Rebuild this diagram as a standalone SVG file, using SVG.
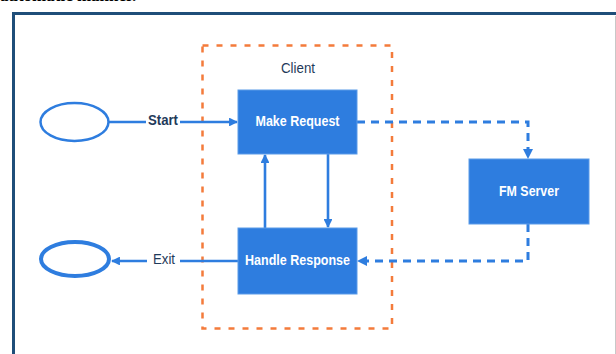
<svg xmlns="http://www.w3.org/2000/svg" width="616" height="354" viewBox="0 0 616 354">
<defs>
<style>
.box{fill:#2e7ddf;stroke:#5a9be8;stroke-width:1}
.lbl{font-family:"Liberation Sans",Arial,sans-serif;font-weight:bold;font-size:15px;fill:#ffffff;text-anchor:middle}
.side{font-family:"Liberation Sans",Arial,sans-serif;font-size:14px;fill:#1f3a5a;text-anchor:middle}
.solid{stroke:#2e7ddf;stroke-width:2.6;fill:none}
.dash{stroke:#2e7ddf;stroke-width:3;fill:none;stroke-dasharray:8 6}
.end{fill:#ffffff;stroke:#2e7ddf}
</style>
<marker id="ah" viewBox="0 0 10 10" refX="9" refY="5" markerWidth="3.4" markerHeight="3.4" orient="auto" markerUnits="strokeWidth">
<path d="M0,0 L10,5 L0,10 Z" fill="#2e7ddf"/>
</marker>
</defs>
<rect width="616" height="354" fill="#ffffff"/>
<text x="0" y="0.5" font-family="Liberation Serif,serif" font-weight="bold" font-size="17" fill="#000">automatic manner.</text>
<g id="frame">
<line x1="13.5" y1="13.5" x2="616" y2="13.5" stroke="#1f4e79" stroke-width="3"/>
<line x1="13.5" y1="12" x2="13.5" y2="354" stroke="#1f4e79" stroke-width="3"/>
<line x1="615.5" y1="16" x2="615.5" y2="354" stroke="#c8c8c8" stroke-width="1"/>
</g>
<g id="client">
<rect x="202.5" y="45.5" width="189.5" height="283" fill="none" stroke="#f47b3b" stroke-width="2.5" stroke-dasharray="6 8"/>
<text class="side" x="298" y="73" textLength="34" lengthAdjust="spacingAndGlyphs">Client</text>
</g>
<g id="connectors">
<line class="solid" x1="109" y1="122" x2="146" y2="122"/>
<line class="solid" x1="180" y1="122" x2="237" y2="122" marker-end="url(#ah)"/>
<line class="solid" x1="238" y1="261" x2="180" y2="261"/>
<line class="solid" x1="147" y1="261" x2="112" y2="261" marker-end="url(#ah)"/>
<line class="solid" x1="265" y1="228" x2="265" y2="155" marker-end="url(#ah)"/>
<line class="solid" x1="328" y1="154" x2="328" y2="227" marker-end="url(#ah)"/>
<path class="dash" d="M357,122 H528 V158" marker-end="url(#ah)"/>
<path class="dash" d="M528,224 V261 H358" marker-end="url(#ah)"/>
<text class="side" x="163" y="125" font-weight="bold" textLength="30" lengthAdjust="spacingAndGlyphs">Start</text>
<text class="side" x="164" y="264" textLength="22" lengthAdjust="spacingAndGlyphs">Exit</text>
</g>
<g id="start">
<ellipse class="end" cx="74.5" cy="122" rx="34" ry="19" stroke-width="2.5"/>
</g>
<g id="exit">
<ellipse class="end" cx="75" cy="259" rx="34" ry="17" stroke-width="4"/>
</g>
<g id="make-request">
<rect class="box" x="238" y="90" width="119" height="64"/>
<text class="lbl" x="297.5" y="126" textLength="84" lengthAdjust="spacingAndGlyphs">Make Request</text>
</g>
<g id="handle-response">
<rect class="box" x="238" y="228" width="119" height="66"/>
<text class="lbl" x="297.5" y="265" textLength="105" lengthAdjust="spacingAndGlyphs">Handle Response</text>
</g>
<g id="fm-server">
<rect class="box" x="469" y="159" width="120" height="65"/>
<text class="lbl" x="529" y="196" textLength="60" lengthAdjust="spacingAndGlyphs">FM Server</text>
</g>
</svg>
